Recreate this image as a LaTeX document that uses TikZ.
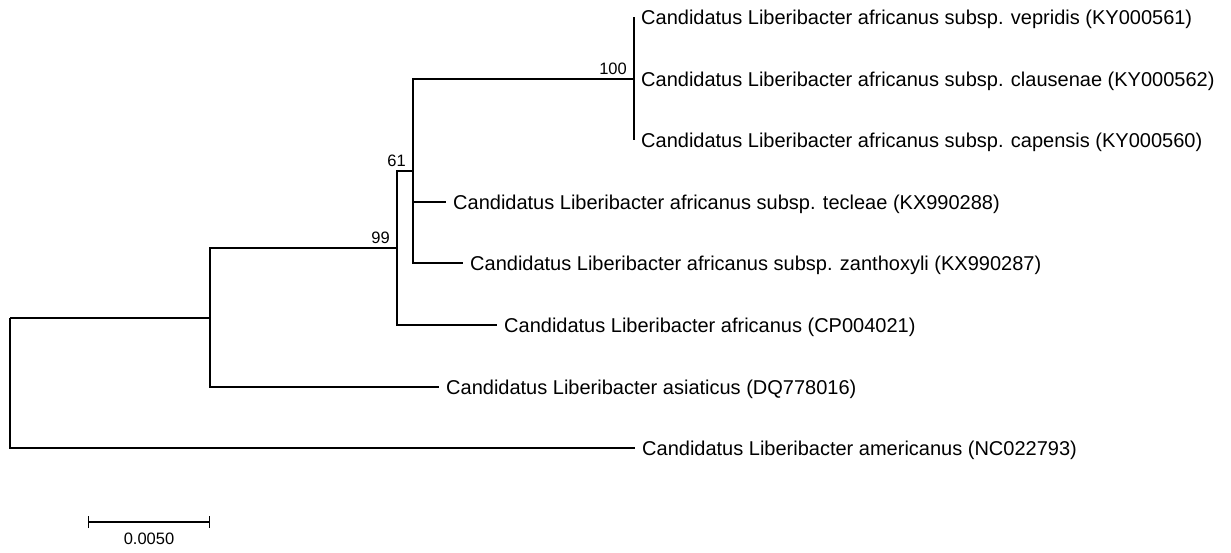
\documentclass[tikz,border=0pt]{standalone}
\usepackage{fontspec}
\setmainfont{Liberation Sans}
\usetikzlibrary{arrows.meta}
\begin{document}
\begin{tikzpicture}[x=1pt, y=-1pt,
  branch/.style={line width=1.2pt},
  leaf/.style={anchor=west, inner xsep=7pt, inner ysep=0pt, text height=14.3pt, text depth=0pt, font=\fontsize{20}{23}\selectfont},
  boot/.style={anchor=south east, inner sep=0pt, xshift=-7pt, yshift=4pt, font=\fontsize{16.5}{19}\selectfont}]
  \useasboundingbox (0,0) rectangle (1231,552);
  % internal nodes
  \coordinate (root) at (10,318);
  \coordinate (n1) at (210,318);
  \coordinate (n99) at (397,248);
  \coordinate (n61) at (413,171);
  \coordinate (n100) at (634,79);
  % leaves
  \node[leaf] (vep) at (634,17) {Candidatus Liberibacter africanus subsp. vepridis (KY000561)};
  \node[leaf] (cla) at (634,79) {Candidatus Liberibacter africanus subsp. clausenae (KY000562)};
  \node[leaf] (cap) at (634,140) {Candidatus Liberibacter africanus subsp. capensis (KY000560)};
  \node[leaf] (tec) at (446,202) {Candidatus Liberibacter africanus subsp. tecleae (KX990288)};
  \node[leaf] (zan) at (463,263) {Candidatus Liberibacter africanus subsp. zanthoxyli (KX990287)};
  \node[leaf] (cp) at (497,325) {Candidatus Liberibacter africanus (CP004021)};
  \node[leaf] (asi) at (439,387) {Candidatus Liberibacter asiaticus (DQ778016)};
  \node[leaf] (ame) at (635,448) {Candidatus Liberibacter americanus (NC022793)};
  % branches
  \draw[branch] (root) -- (n1);
  \draw[branch] (root) |- (ame.west);
  \draw[branch] (n1) |- (n99);
  \draw[branch] (n1) |- (asi.west);
  \draw[branch] (n99) |- (n61);
  \draw[branch] (n99) |- (cp.west);
  \draw[branch] (n61) |- (n100);
  \draw[branch] (n61) |- (tec.west);
  \draw[branch] (n61) |- (zan.west);
  \draw[branch] (n100) |- (vep.west);
  \draw[branch] (n100) |- (cla.west);
  \draw[branch] (n100) |- (cap.west);
  % bootstrap values
  \node[boot] (b100) at (n100) {100};
  \node[boot] (b61) at (n61) {61};
  \node[boot] (b99) at (n99) {99};
  % scale bar
  \coordinate (sbl) at (88,522);
  \coordinate (sbr) at (210,522);
  \draw[branch, {Bar[width=12pt]}-{Bar[width=12pt]}] (sbl) -- (sbr);
  \node[anchor=north, inner sep=0pt, font=\fontsize{16.5}{19}\selectfont] (sbt) at (149,533) {0.0050};
\end{tikzpicture}
\end{document}
